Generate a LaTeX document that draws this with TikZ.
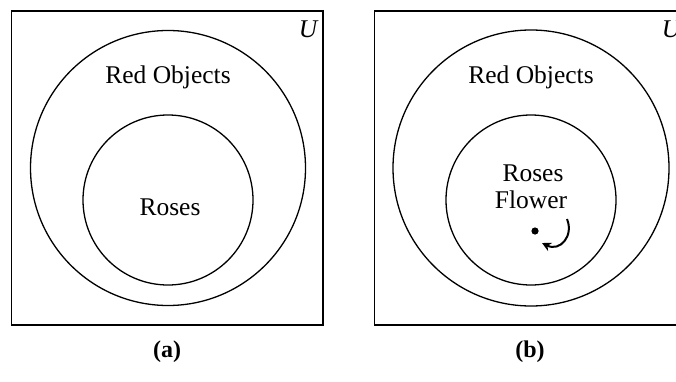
\documentclass[tikz,border=0pt]{standalone}
\usepackage{fontspec}
\setmainfont{Liberation Serif}
\usetikzlibrary{arrows.meta}
\begin{document}
\begin{tikzpicture}[x=1pt,y=-1pt,
  boxline/.style={line width=1.7pt},
  circ/.style={line width=1.3pt},
  lbl/.style={font=\fontsize{25.5}{28}\selectfont, inner sep=0pt},
  sublabel/.style={font=\fontsize{24}{28}\selectfont\bfseries, inner sep=0pt}]
\useasboundingbox (0,0) rectangle (676,382);
\clip (0,0) rectangle (676,382);
% panel (a)
\draw[boxline] (11.5,11) rectangle (323,325);
\draw[circ] (168,168) circle[radius=137.5];
\draw[circ] (168,200) circle[radius=85];
\node[lbl] (ra) at (168,77) {Red Objects};
\node[lbl] (rosa) at (170,207) {Roses};
\node[lbl] (ua) at (308,29) {\itshape U};
\node[sublabel] (capa) at (167,352) {(a)};
% panel (b)
\draw[boxline] (374.5,11) rectangle (686,325);
\draw[circ] (531,168) circle[radius=138];
\draw[circ] (531,200) circle[radius=85];
\node[lbl] (rb) at (531,77) {Red Objects};
\node[lbl] (rosb) at (533,173) {Roses};
\node[lbl] (flb) at (531,200) {Flower};
\node[lbl] (ub) at (671,29) {\itshape U};
\node[sublabel] (capb) at (530,352) {(b)};
\fill (535,231) circle[radius=3.6];
\coordinate (s) at (567,219);
\coordinate (e) at (542,243);
\draw[line width=2pt,-{Stealth[length=9pt,width=9pt]}] (s) .. controls (574,236) and (560,252) .. (e);
\end{tikzpicture}
\end{document}
